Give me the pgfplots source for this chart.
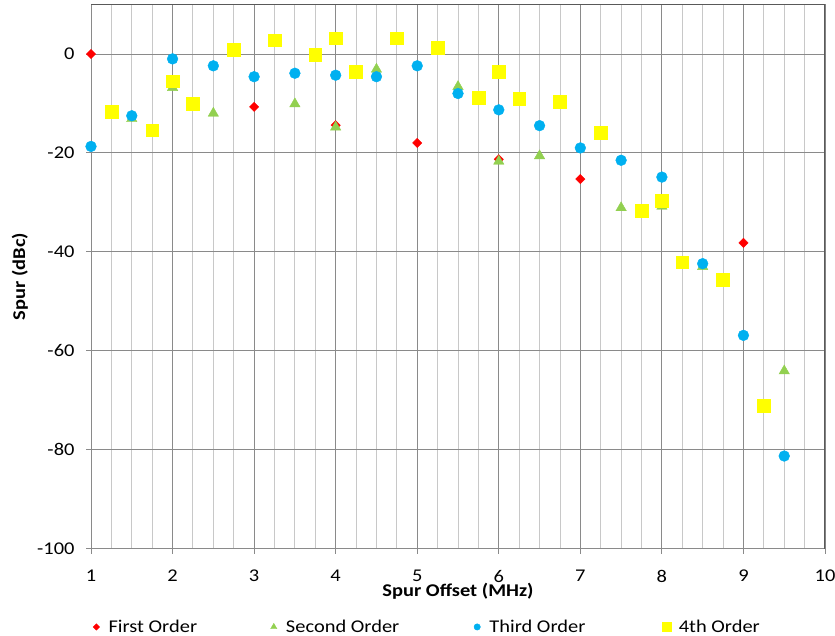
\documentclass[border=0pt]{standalone}
\usepackage{fontspec}
\setmainfont{Carlito}[FakeStretch=1.14]
\usepackage{pgfplots}
\pgfplotsset{compat=1.18}
\definecolor{cred}{HTML}{FF0000}
\definecolor{cgreen}{HTML}{92D050}
\definecolor{cblue}{HTML}{00B0F0}
\definecolor{cyellow}{HTML}{FFFF00}
\definecolor{gmaj}{HTML}{8A8A8A}
\definecolor{gmin}{HTML}{C8C8C8}
\definecolor{gframe}{HTML}{595959}
\begin{document}
\begin{tikzpicture}
\begin{axis}[name=ax, scale only axis, width=734bp, height=544bp,
  xmin=1, xmax=10, ymin=-100, ymax=10,
  xtick={1,...,10}, ytick={-100,-80,...,0},
  minor x tick num=3,
  xmajorgrids, xminorgrids, ymajorgrids,
  major grid style={gmaj, line width=0.9bp},
  minor grid style={gmin, line width=0.9bp},
  tick align=outside, major tick length=5bp, minor tick length=0pt,
  xtick pos=bottom, ytick pos=left,
  tick style={gmaj, line width=0.9bp},
  axis line style={gmaj, line width=0.9bp},
  font=\fontsize{18}{21}\selectfont,
  /pgf/number format/assume math mode=true,
  yticklabel style={xshift=-8bp},
  xticklabel style={yshift=-13bp},
  xlabel={\bfseries Spur Offset (MHz)},
  ylabel={\bfseries Spur (dBc)},
  xlabel style={at={(axis description cs:0.5,-0.063)}, anchor=north, inner sep=0pt},
  ylabel style={at={(axis description cs:-0.097,0.5)}, anchor=center, inner sep=0pt},
  legend columns=4,
  legend cell align=left,
  legend style={draw=none, fill=none, inner sep=0pt, nodes={inner sep=0pt},
    at={(axis description cs:0.0,-0.131)}, anchor=north west,
    font=\fontsize{18}{21}\selectfont,
    column sep=0pt},
  legend image code/.code={\draw[#1] plot coordinates {(0bp,0bp)}; \path (-5bp,0) (12bp,0);},
]
\addplot[only marks, mark=square*, mark size=3.3bp, mark options={rotate=45, draw=cred, fill=cred}, forget plot]
coordinates {(1,0) (3,-10.7) (4,-14.4) (5,-18) (6,-21.3) (7,-25.3) (9,-38.2)};
\addplot[only marks, mark=triangle*, mark size=6bp, mark options={draw=cgreen, fill=cgreen}, forget plot]
coordinates {(1.5,-13.1) (2,-6.8) (2.5,-12) (3.5,-10.1) (4,-14.8) (4.5,-3.1) (5.5,-6.6) (6,-21.7) (6.5,-20.6) (7.5,-31.1) (8,-30.8) (8.5,-43) (9.5,-64.1)};
\addplot[only marks, mark=*, mark size=5.4bp, mark options={draw=cblue, fill=cblue}, forget plot]
coordinates {(1,-18.7) (1.5,-12.5) (2,-1) (2.5,-2.4) (3,-4.6) (3.5,-3.9) (4,-4.3) (4.5,-4.6) (5,-2.4) (5.5,-8) (6,-11.3) (6.5,-14.5) (7,-19) (7.5,-21.5) (8,-24.9) (8.5,-42.4) (9,-56.9) (9.5,-81.3)};
\addplot[only marks, mark=square*, mark size=6.4bp, mark options={draw=cyellow, fill=cyellow}, forget plot]
coordinates {(1.25,-11.6) (1.75,-15.4) (2,-5.5) (2.25,-10.1) (2.75,0.8) (3.25,2.8) (3.75,-0.2) (4,3.2) (4.25,-3.6) (4.75,3.2) (5.25,1.2) (5.75,-8.8) (6,-3.6) (6.25,-9.1) (6.75,-9.7) (7.25,-15.9) (7.75,-31.7) (8,-29.6) (8.25,-42.1) (8.75,-45.6) (9.25,-71.2)};
\addlegendimage{only marks, mark=square*, mark size=2.3bp, mark options={rotate=45, draw=cred, fill=cred}}
\addlegendentry{\makebox[160bp][l]{First Order}}
\addlegendimage{only marks, mark=triangle*, mark size=3.6bp, mark options={draw=cgreen, fill=cgreen}}
\addlegendentry{\makebox[186bp][l]{Second Order}}
\addlegendimage{only marks, mark=*, mark size=3.2bp, mark options={draw=cblue, fill=cblue}}
\addlegendentry{\makebox[172bp][l]{Third Order}}
\addlegendimage{only marks, mark=square*, mark size=4.5bp, mark options={draw=cyellow, fill=cyellow}}
\addlegendentry{4th Order}
\draw[gframe, line width=1.2bp] (rel axis cs:0,1) -- (rel axis cs:1,1) -- (rel axis cs:1,0);
\end{axis}
\pgfresetboundingbox
\path[use as bounding box] ([xshift=-91bp,yshift=4.5bp]ax.north west) rectangle ([xshift=10bp,yshift=-87bp]ax.south east);
\end{tikzpicture}
\end{document}
